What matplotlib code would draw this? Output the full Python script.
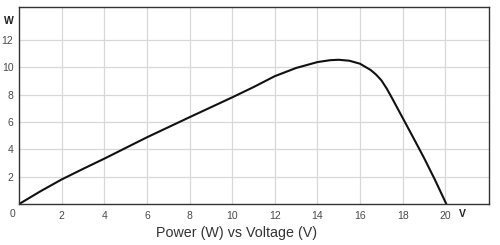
import numpy as np
import matplotlib.pyplot as plt

plt.rcParams['font.family'] = ['Liberation Sans', 'DejaVu Sans']

# power curve
voltage = [0, 1, 2, 3, 4, 6, 8, 10, 11, 12, 13, 14, 14.6, 15, 15.5, 16, 16.5, 16.75,
           17, 17.25, 17.5, 18, 18.5, 19, 19.5, 20.05]
power = [0, 0.93, 1.8, 2.57, 3.32, 4.88, 6.35, 7.8, 8.55, 9.35, 9.95, 10.38, 10.52, 10.55, 10.48,
         10.26, 9.8, 9.47, 9.05, 8.45, 7.75, 6.3, 4.85, 3.38, 1.82, 0]

xticks = [2, 4, 6, 8, 10, 12, 14, 16, 18, 20]
yticks = [2, 4, 6, 8, 10, 12]

fig = plt.figure(figsize=(5, 2.45), dpi=100)
ax = fig.add_axes([0.038, 0.167, 0.94, 0.804])

ax.plot(voltage, power, color='#111111', lw=1.5, solid_capstyle='round', solid_joinstyle='round')

ax.set_xlim(0, 22.05)
ax.set_ylim(0, 14.4)
ax.set_xticks(xticks)
ax.set_yticks(yticks)
ax.grid(True, color='#d8d8d8', lw=0.9)
ax.set_axisbelow(True)
ax.tick_params(length=0, labelsize=7.5, colors='#4a4a4a', pad=5)
ax.tick_params(axis='y', pad=4)
for s in ax.spines.values():
    s.set_color('#333333')
    s.set_linewidth(1.0)

# origin label and axis unit labels
fig.text(12 / 500, 1 - 214 / 245, '0', fontsize=7.5, color='#4a4a4a', ha='center', va='center')
fig.text(9 / 500, 1 - 21 / 245, 'W', fontsize=7.5, fontweight='bold', color='#222222', ha='center', va='center')
fig.text(462 / 500, 1 - 214 / 245, 'V', fontsize=7.5, fontweight='bold', color='#222222', ha='center', va='center')
fig.text(237 / 500, 1 - 233 / 245, 'Power (W) vs Voltage (V)', fontsize=10.25, color='#333333', ha='center', va='center')

fig.savefig('out.png', dpi=100)
